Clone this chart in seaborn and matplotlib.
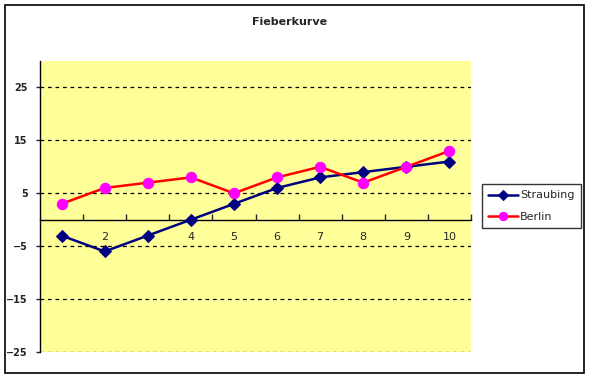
import numpy as np
import pandas as pd
import matplotlib
matplotlib.use("Agg")
import matplotlib.pyplot as plt
import matplotlib.ticker as ticker
from matplotlib.patches import Rectangle
import seaborn as sns

# ── data ─────────────────────────────────────────────────────────────────────
days = [1, 2, 3, 4, 5, 6, 7, 8, 9, 10]
# labels for day 1 and 3 are hidden behind the markers in the original
day_labels = ["", "2", "", "4", "5", "6", "7", "8", "9", "10"]
straubing = [-3, -6, -3, 0, 3, 6, 8, 9, 10, 11]
berlin = [3, 6, 7, 8, 5, 8, 10, 7, 10, 13]
y_ticks = [-25, -15, -5, 5, 15, 25]

df = pd.DataFrame({
    "Tag": days * 2,
    "Wert": straubing + berlin,
    "Ort": ["Straubing"] * len(days) + ["Berlin"] * len(days),
})

sns.set_style("white")
plt.rcParams["font.family"] = ["DejaVu Sans"]

fig = plt.figure(figsize=(5.89, 3.78), dpi=100)
ax = fig.add_axes([40 / 589, 26 / 378, 431 / 589, 291 / 378])
ax.set_facecolor("#FFFF99")

# outer chart frame
fig.patches.append(Rectangle((5 / 589, 5 / 378), 579 / 589, 368 / 378,
                             transform=fig.transFigure, fill=False,
                             edgecolor="black", lw=1.2, zorder=0))

styles = {
    "Straubing": dict(color="#000080", marker="D", mfc="#000080", mec="#000080", ms=6.5),
    "Berlin": dict(color="#FF0000", marker="o", mfc="#FF00FF", mec="#FF00FF", ms=7.5),
}
for name in ["Straubing", "Berlin"]:
    st = styles[name]
    sns.lineplot(data=df[df["Ort"] == name], x="Tag", y="Wert", ax=ax,
                 color=st["color"], marker=st["marker"], markersize=st["ms"],
                 markerfacecolor=st["mfc"], markeredgecolor=st["mec"],
                 lw=1.8, label=name, zorder=5, clip_on=False)

ax.set_xlim(0.5, 10.5)
ax.set_ylim(-25, 30)

for y in y_ticks:
    ax.axhline(y, color="black", lw=0.9, ls=(0, (3, 3)), zorder=1)

# axes styling
for s in ["top", "right"]:
    ax.spines[s].set_visible(False)
ax.spines["left"].set_color("black")
ax.spines["left"].set_linewidth(1)
ax.spines["bottom"].set_position(("data", 0))
ax.spines["bottom"].set_color("black")
ax.spines["bottom"].set_linewidth(1)

ax.set_yticks(y_ticks)
ax.tick_params(axis="y", direction="out", length=3, width=1, labelsize=7,
               pad=6, left=True)
ax.set_xticks(days)
ax.set_xticklabels(day_labels)
ax.xaxis.set_minor_locator(ticker.FixedLocator(np.arange(1.5, 11, 1)))
ax.tick_params(axis="x", which="major", length=0, labelsize=8, pad=9)
ax.tick_params(axis="x", which="minor", direction="in", length=4, width=1,
               bottom=True)
for lbl in ax.get_yticklabels():
    lbl.set_fontweight("bold")
ax.set_xlabel("")
ax.set_ylabel("")

fig.text(290 / 589, 1 - 22 / 378, "Fieberkurve", ha="center", va="center",
         fontsize=8, fontweight="bold")

leg = ax.legend(loc="center left", bbox_to_anchor=(482 / 589, 1 - 206 / 378),
                bbox_transform=fig.transFigure, frameon=True, fancybox=False,
                edgecolor="black", fontsize=8, handlelength=2.7,
                borderpad=0.55, labelspacing=1.0, handletextpad=0.2,
                borderaxespad=0, markerscale=0.8)
leg.get_frame().set_linewidth(1)

fig.savefig("out.png", dpi=100)
